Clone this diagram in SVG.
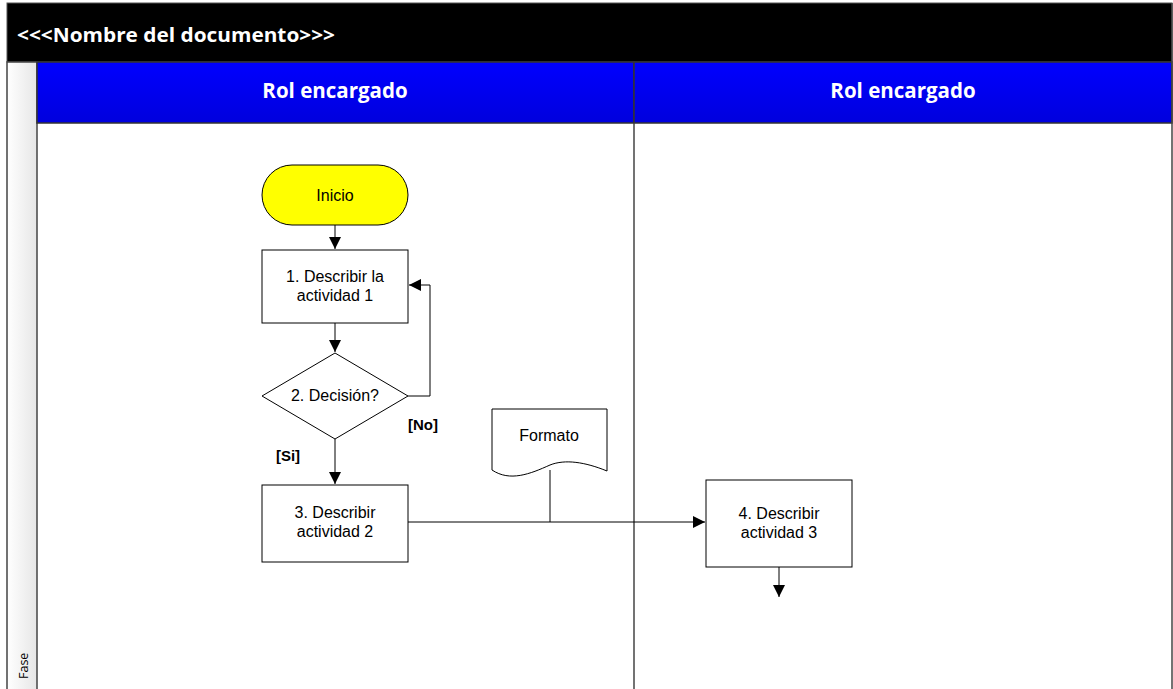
<svg xmlns="http://www.w3.org/2000/svg" width="1173" height="689" viewBox="0 0 1173 689">
  <defs>
    <linearGradient id="phaseFill" x1="0" y1="0" x2="1" y2="0">
      <stop offset="0" stop-color="#ffffff"/>
      <stop offset="1" stop-color="#e6e6e6"/>
    </linearGradient>
    <linearGradient id="roleFill" x1="0" y1="0" x2="0" y2="1">
      <stop offset="0" stop-color="#0000ff"/>
      <stop offset="1" stop-color="#0000dd"/>
    </linearGradient>
    <marker id="arrow" viewBox="0 0 10 10" refX="10" refY="5" markerWidth="12" markerHeight="12" markerUnits="userSpaceOnUse" orient="auto">
      <path d="M0,0 L10,5 L0,10 Z" fill="#000"/>
    </marker>
  </defs>
  <style>
    .head { font-family: "Open Sans", Lato, sans-serif; font-weight: bold; fill: #fff; }
    .shape { fill: #fff; stroke: #000; stroke-width: 1; }
    .label { font-family: "Liberation Sans", Arial, sans-serif; font-size: 16px; fill: #000; text-anchor: middle; }
    .guard { font-family: "Liberation Sans", Arial, sans-serif; font-size: 15px; font-weight: bold; fill: #000; text-anchor: middle; }
    .conn { fill: none; stroke: #000; stroke-width: 1; }
  </style>

  <!-- pool background -->
  <rect x="7" y="3" width="1165" height="690" fill="#fff"/>

  <!-- title bar -->
  <g id="title">
    <rect x="7" y="3" width="1165" height="59" fill="#000" stroke="#555" stroke-width="1"/>
    <text class="head" x="17" y="42" font-size="20" textLength="318" lengthAdjust="spacingAndGlyphs">&lt;&lt;&lt;Nombre del documento&gt;&gt;&gt;</text>
  </g>

  <!-- phase column -->
  <g id="phase">
    <rect x="7" y="62" width="30" height="630" fill="url(#phaseFill)" stroke="#444" stroke-width="1.5"/>
    <text x="28" y="679" transform="rotate(-90 28 679)" font-family="'Open Sans', Lato, sans-serif" font-size="12.5" fill="#000">Fase</text>
  </g>

  <!-- lanes -->
  <g id="lane-1">
    <rect x="37" y="62" width="597" height="61" fill="url(#roleFill)" stroke="#333" stroke-width="1.5"/>
    <text class="head" x="335" y="98" font-size="20.5" text-anchor="middle">Rol encargado</text>
  </g>
  <g id="lane-2">
    <rect x="634" y="62" width="538" height="61" fill="url(#roleFill)" stroke="#333" stroke-width="1.5"/>
    <text class="head" x="903" y="98" font-size="20.5" text-anchor="middle">Rol encargado</text>
  </g>
  <line x1="634" y1="123" x2="634" y2="689" stroke="#444" stroke-width="1.5"/>
  <line x1="1172" y1="3" x2="1172" y2="689" stroke="#444" stroke-width="1.5"/>

  <!-- connectors -->
  <g id="connectors">
    <line class="conn" x1="335" y1="225" x2="335" y2="249" marker-end="url(#arrow)"/>
    <line class="conn" x1="335" y1="323" x2="335" y2="352" marker-end="url(#arrow)"/>
    <polyline class="conn" points="408,396 430,396 430,285 409,285" marker-end="url(#arrow)"/>
    <line class="conn" x1="335" y1="439" x2="335" y2="484" marker-end="url(#arrow)"/>
    <line class="conn" x1="408" y1="522" x2="705" y2="522" marker-end="url(#arrow)"/>
    <line class="conn" x1="550" y1="470" x2="550" y2="522"/>
    <line class="conn" x1="779" y1="567" x2="779" y2="597" marker-end="url(#arrow)"/>
    <text class="guard" x="423" y="430">[No]</text>
    <text class="guard" x="288" y="461">[Si]</text>
  </g>

  <!-- nodes -->
  <g id="start">
    <rect x="262" y="165" width="146" height="60" rx="30" ry="30" fill="#ffff00" stroke="#000" stroke-width="1"/>
    <text class="label" x="335" y="201">Inicio</text>
  </g>
  <g id="activity-1">
    <rect class="shape" x="262" y="250" width="146" height="73"/>
    <text class="label" x="335" y="282">1. Describir la</text>
    <text class="label" x="335" y="301">actividad 1</text>
  </g>
  <g id="decision-2">
    <polygon class="shape" points="335,353 408,396 335,439 262,396"/>
    <text class="label" x="335" y="401">2. Decisión?</text>
  </g>
  <g id="activity-2">
    <rect class="shape" x="262" y="485" width="146" height="77"/>
    <text class="label" x="335" y="518">3. Describir</text>
    <text class="label" x="335" y="537">actividad 2</text>
  </g>
  <g id="document">
    <path class="shape" d="M492,409 L607,409 L607,471 C585,462 565,459 550,465 C530,474 510,482 492,470 Z"/>
    <text class="label" x="549" y="441">Formato</text>
  </g>
  <g id="activity-3">
    <rect class="shape" x="706" y="480" width="146" height="87"/>
    <text class="label" x="779" y="519">4. Describir</text>
    <text class="label" x="779" y="538">actividad 3</text>
  </g>
</svg>
